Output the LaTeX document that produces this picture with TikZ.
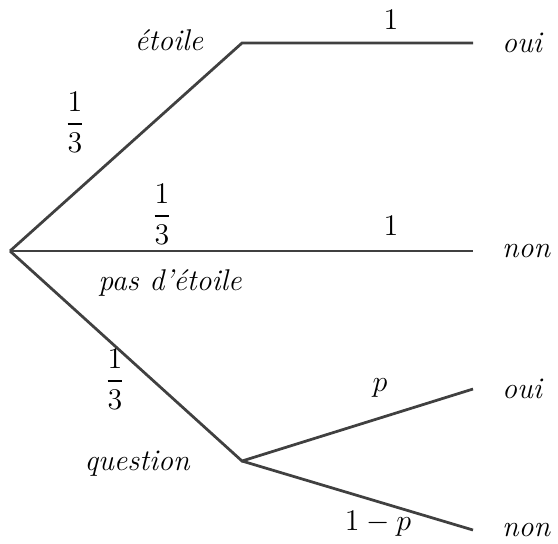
\documentclass[tikz,border=0pt]{standalone}
\usepackage{amsmath,amssymb}
\usetikzlibrary{positioning}

\begin{document}
\begin{tikzpicture}[
  x=0.4pt, y=-0.4pt,
  font=\large,
  branch/.style={line width=1.1pt, draw=black!75},
  lbl/.style={font=\large\itshape, inner sep=1pt},
  prob/.style={font=\large, inner sep=1pt}
]
\useasboundingbox (0,0) rectangle (558,543);
% tree points
\coordinate (root) at (10,251);
\coordinate (etoile) at (242,43);
\coordinate (pasetoile) at (242,251);
\coordinate (question) at (242,461);
\coordinate (leafA) at (473,43);
\coordinate (leafB) at (473,251);
\coordinate (leafC) at (473,389);
\coordinate (leafD) at (473,530);
% branches
\draw[branch] (root) -- (etoile) -- (leafA);
\draw[branch] (root) -- (pasetoile) -- (leafB);
\draw[branch] (root) -- (question) -- (leafC);
\draw[branch] (question) -- (leafD);
% labels
\node[lbl] (tEtoile) at (169,40) {étoile};
\node[lbl] (tPas) at (170,283) {pas d'étoile};
\node[lbl] (tQuestion) at (137,464) {question};
\node[lbl] (tOuiA) at (522,43) {oui};
\node[lbl] (tNonB) at (526,251) {non};
\node[lbl] (tOuiC) at (522,389) {oui};
\node[lbl] (tNonD) at (526,530) {non};
\node[prob] (pA) at (75,122) {$\dfrac{1}{3}$};
\node[prob] (pB) at (162,214) {$\dfrac{1}{3}$};
\node[prob] (pC) at (115,379) {$\dfrac{1}{3}$};
\node[prob] (qA) at (391,20) {$1$};
\node[prob] (qB) at (391,226) {$1$};
\node[prob] (qC) at (380,388) {$p$};
\node[prob] (qD) at (378,524) {$1-p$};
\end{tikzpicture}
\end{document}
